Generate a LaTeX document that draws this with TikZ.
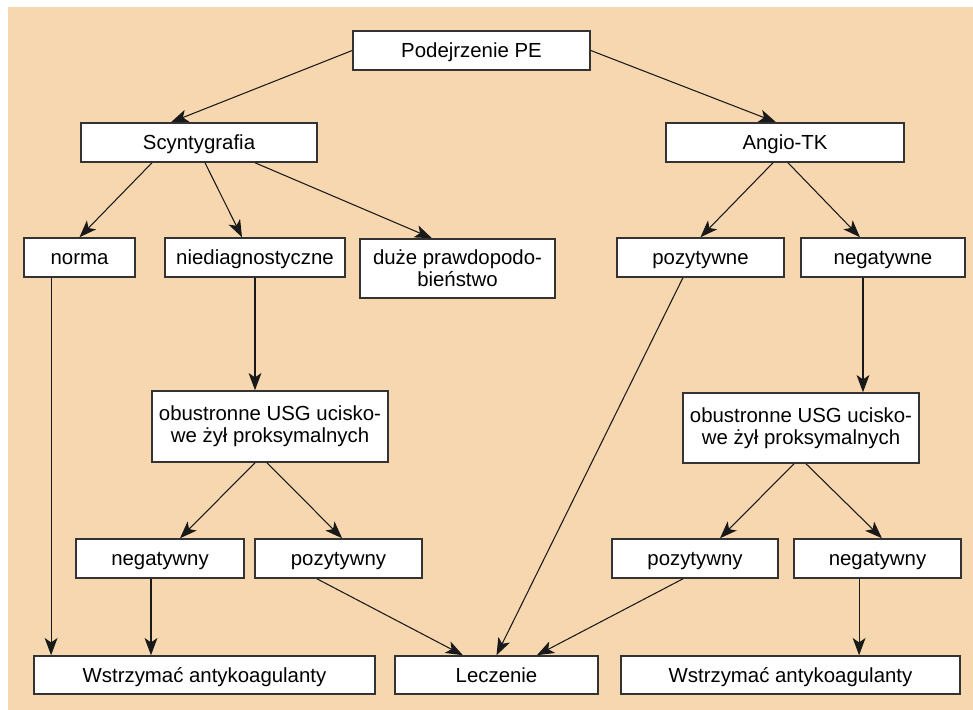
\documentclass[tikz,border=0pt]{standalone}
\usepackage{fontspec}
\setmainfont{Liberation Sans}
\usetikzlibrary{arrows.meta}
\definecolor{peach}{HTML}{F6D7AF}
\definecolor{rim}{HTML}{333333}

\begin{document}
\begin{tikzpicture}[x=0.025cm,y=-0.025cm,
		box/.style={draw=rim,line width=1.1pt,fill=white,inner sep=0pt,
			minimum height=0.975cm,align=center,
			font=\fontsize{14.5}{15.6}\selectfont},
		oneline/.style={box,text height=13.4pt,text depth=2.8pt},
		>={Stealth[length=4.3mm,width=3.2mm,inset=1.1mm]}]
		\useasboundingbox (0,0) rectangle (973,710);
		\fill[peach] (8,7) rectangle (973,710);
		%
		\node[oneline,minimum width=5.925cm] (pe) at (471.5,50.5) {Podejrzenie PE};
		\node[oneline,minimum width=5.9cm] (scy) at (199,142.5) {Scyntygrafia};
		\node[oneline,minimum width=5.95cm] (angio) at (785,142.5) {Angio-TK};
		%
		\node[oneline,minimum width=2.775cm] (norma) at (79.5,257.5) {norma};
		\node[oneline,minimum width=4.5cm] (nied) at (255,257.5) {niediagnostyczne};
		\node[box,minimum width=4.875cm,minimum height=1.475cm] (duze) at (457.5,268.5) {duże prawdopodo-\\bieństwo};
		\node[oneline,minimum width=4.175cm] (poz) at (700.5,257.5) {pozytywne};
		\node[oneline,minimum width=4.1cm] (neg) at (883,257.5) {negatywne};
		%
		\node[box,minimum width=5.9cm,minimum height=1.775cm] (usgl) at (270,426.5) {obustronne USG ucisko-\\we żył proksymalnych};
		\node[box,minimum width=5.9cm,minimum height=1.75cm] (usgr) at (801,428) {obustronne USG ucisko-\\we żył proksymalnych};
		%
		\node[oneline,minimum width=4.2cm] (negl) at (160,558.5) {negatywny};
		\node[oneline,minimum width=4.175cm] (pozl) at (338.5,558.5) {pozytywny};
		\node[oneline,minimum width=4.15cm] (pozr) at (695,558.5) {pozytywny};
		\node[oneline,minimum width=4.175cm] (negr) at (877.5,558.5) {negatywny};
		%
		\node[oneline,minimum width=8.525cm,minimum height=0.95cm] (wstl) at (204.5,675) {Wstrzymać antykoagulanty};
		\node[oneline,minimum width=5.075cm,minimum height=0.95cm] (lecz) at (496.5,675) {Leczenie};
		\node[oneline,minimum width=8.475cm,minimum height=0.95cm] (wstr) at (790.5,675) {Wstrzymać antykoagulanty};
		%
		\path[->,line width=0.75pt,black!90]
		(pe.west) edge ([xshift=-0.7cm]scy.north)
		(pe.east) edge ([xshift=-0.225cm]angio.north)
		([xshift=-1.175cm]scy.south) edge (norma.north)
		([xshift=0.15cm]scy.south) edge ([xshift=-0.325cm]nied.north)
		([xshift=1.4cm]scy.south) edge ([xshift=-0.64cm]duze.north)
		([xshift=-0.3cm]angio.south) edge (poz.north)
		([xshift=0.075cm]angio.south) edge ([xshift=-0.575cm]neg.north)
		(nied.south) edge (nied.south |- usgl.north)
		([xshift=-0.5cm]neg.south) edge ([xshift=-0.5cm]neg.south |- usgr.north)
		([xshift=-0.375cm]usgl.south) edge ([xshift=0.5cm]negl.north)
		([xshift=-0.075cm]usgl.south) edge ([xshift=0.09cm]pozl.north)
		([xshift=-0.175cm]usgr.south) edge ([xshift=0.625cm]pozr.north)
		([xshift=0.125cm]usgr.south) edge ([xshift=0.11cm]negr.north)
		([xshift=-0.71cm]norma.south) edge ([xshift=-0.71cm]norma.south |- wstl.north)
		([xshift=-0.225cm]negl.south) edge ([xshift=-0.225cm]negl.south |- wstl.north)
		([xshift=-0.54cm]pozl.south) edge ([xshift=-0.84cm]lecz.north)
		([xshift=-0.44cm]poz.south) edge (lecz.north)
		([xshift=-0.3cm]pozr.south) edge ([xshift=1.01cm]lecz.north)
		([xshift=-0.46cm]negr.south) edge ([xshift=-0.46cm]negr.south |- wstr.north);
\end{tikzpicture}
\end{document}
